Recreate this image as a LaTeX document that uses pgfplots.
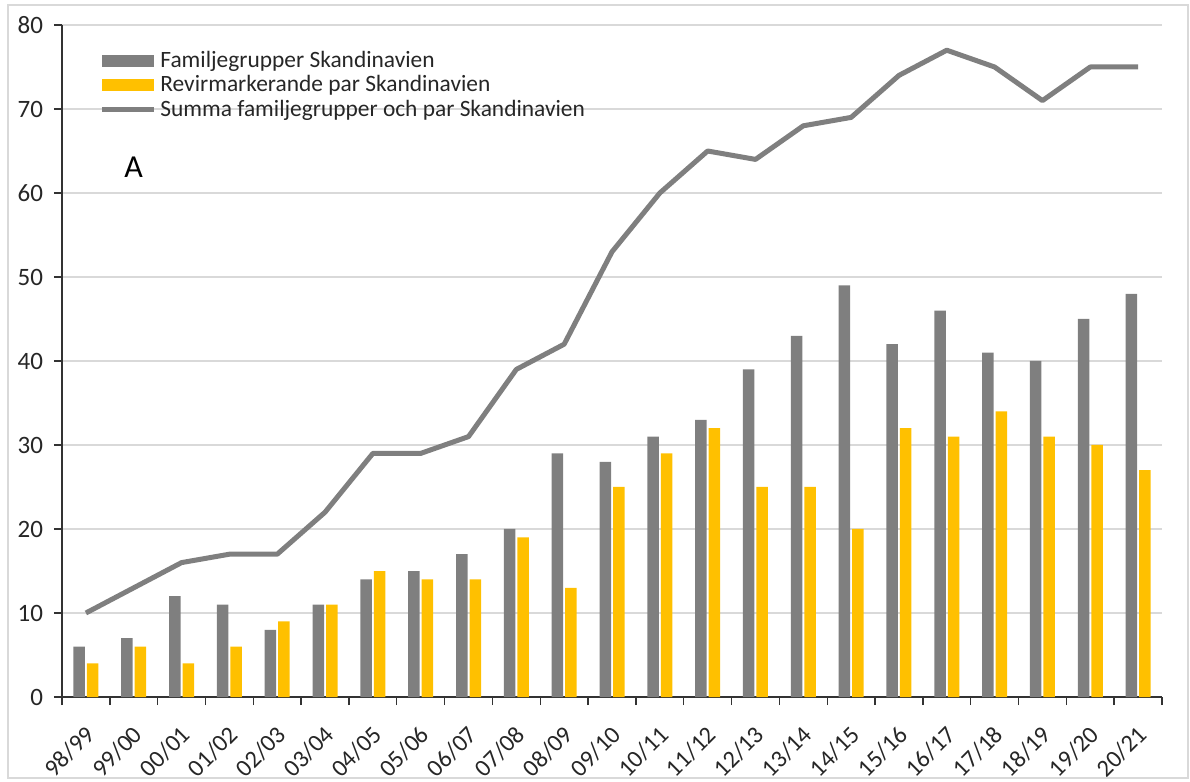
\documentclass[border=0pt]{standalone}
\usepackage{pgfplots}
\pgfplotsset{compat=1.18}
\usepackage{fontspec}
\setmainfont{Carlito}
\definecolor{bargray}{HTML}{7F7F7F}
\definecolor{baryellow}{HTML}{FFC000}
\definecolor{gridgray}{HTML}{D9D9D9}
\begin{document}
\begin{tikzpicture}
\begin{axis}[
  name=ax,
  scale only axis,
  width=550pt, height=336pt,
  xmin=-0.5, xmax=22.5,
  ymin=0, ymax=80,
  ytick={0,10,...,80},
  ymajorgrids,
  grid style={gridgray, line width=0.8pt},
  axis lines*=left,
  axis line style={black!80, line width=0.7pt},
  xtick={0,...,22},
  xticklabels={98/99,99/00,00/01,01/02,02/03,03/04,04/05,05/06,06/07,07/08,08/09,09/10,10/11,11/12,12/13,13/14,14/15,15/16,16/17,17/18,18/19,19/20,20/21},
  minor xtick={-0.5,0.5,...,22.5},
  major x tick style={draw=none},
  minor x tick style={black!80, line width=0.7pt},
  minor tick length=4pt,
  major tick length=4pt,
  y tick style={black!80, line width=0.7pt},
  tick align=outside,
  xticklabel style={yshift=-8pt, xshift=-1pt, rotate=45, anchor=north east, inner sep=1pt, font=\fontsize{12.2}{14}\selectfont},
  yticklabel style={xshift=-2pt, font=\fontsize{12.5}{14}\selectfont},
  ticklabel style={text=black!85},
  /pgf/number format/assume math mode=true,
  ybar=1pt,
  bar width=5.75pt,
  legend style={at={(0,1)}, anchor=north west, xshift=16.5pt, yshift=-9pt, draw=none, fill=none,
    font=\fontsize{11.7}{13}\selectfont, text=black!85, row sep=-1.5pt, inner sep=2pt},
  legend cell align=left,
  clip=false,
]
\addplot[fill=bargray, draw=none,
  legend image code/.code={\fill[bargray] (0pt,-3pt) rectangle (26pt,3pt);}]
  coordinates {(0,6)(1,7)(2,12)(3,11)(4,8)(5,11)(6,14)(7,15)(8,17)(9,20)(10,29)(11,28)(12,31)(13,33)(14,39)(15,43)(16,49)(17,42)(18,46)(19,41)(20,40)(21,45)(22,48)};
\addlegendentry{Familjegrupper Skandinavien}
\addplot[fill=baryellow, draw=none,
  legend image code/.code={\fill[baryellow] (0pt,-3pt) rectangle (26pt,3pt);}]
  coordinates {(0,4)(1,6)(2,4)(3,6)(4,9)(5,11)(6,15)(7,14)(8,14)(9,19)(10,13)(11,25)(12,29)(13,32)(14,25)(15,25)(16,20)(17,32)(18,31)(19,34)(20,31)(21,30)(22,27)};
\addlegendentry{Revirmarkerande par Skandinavien}
\addplot[sharp plot, bargray, line width=2.5pt, line join=round, mark=none, bar shift=0pt,
  legend image code/.code={\draw[bargray, line width=2.5pt] (0pt,0pt) -- (26pt,0pt);}]
  coordinates {(0,10)(1,13)(2,16)(3,17)(4,17)(5,22)(6,29)(7,29)(8,31)(9,39)(10,42)(11,53)(12,60)(13,65)(14,64)(15,68)(16,69)(17,74)(18,77)(19,75)(20,71)(21,75)(22,75)};
\addlegendentry{Summa familjegrupper och par Skandinavien}
\node[font=\fontsize{16}{18}\selectfont, text=black] at (axis cs:1.0,63.1) {A};
\end{axis}
\path ([shift={(-31pt,-41.5pt)}]ax.south west) rectangle ([shift={(14pt,12.5pt)}]ax.north east);
\draw[gridgray, line width=0.6pt] ([shift={(-27pt,-40.5pt)}]ax.south west) rectangle ([shift={(13pt,10pt)}]ax.north east);
\end{tikzpicture}
\end{document}
